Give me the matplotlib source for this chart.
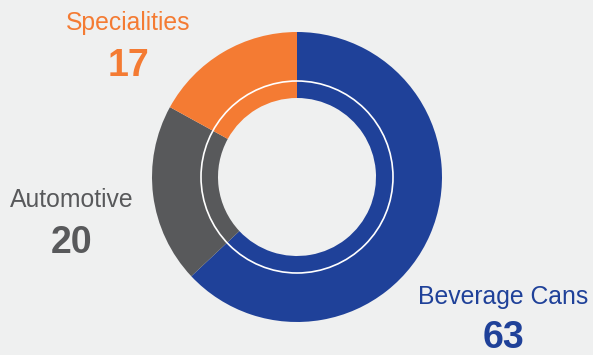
import matplotlib.pyplot as plt
from matplotlib.patches import Circle

plt.rcParams['font.family'] = ['Liberation Sans', 'DejaVu Sans']

segments = ['Beverage Cans', 'Automotive', 'Specialities']
shares = [63, 20, 17]
colors = ['#1F4199', '#58595B', '#F47B33']

W, H = 593, 355
fig = plt.figure(figsize=(W / 100, H / 100), dpi=100)
fig.patch.set_facecolor('#EFF0F0')
ax = fig.add_axes([0, 0, 1, 1])
ax.set_facecolor('#EFF0F0')

cx, cy = 297, H - 177
R = 145
ax.pie(shares, colors=colors, startangle=90, counterclock=False,
       radius=R, center=(cx, cy),
       wedgeprops=dict(width=R - 79, linewidth=0))
ax.add_patch(Circle((cx, cy), 96, fill=False, edgecolor='white', linewidth=1.2))

# labels: (name x, name y, value y) in pixel coordinates from top
label_pos = [(503, 297, 338), (72, 200, 243), (128, 23, 66)]
for name, val, col, (lx, ly, vy) in zip(segments, shares, colors, label_pos):
    ax.text(lx, H - ly, name, color=col, fontsize=17.8, ha='center', va='center')
    ax.text(lx, H - vy, str(val), color=col, fontsize=27, fontweight='bold',
            ha='center', va='center')

ax.set_xlim(0, W)
ax.set_ylim(0, H)
ax.set_aspect('equal')
ax.axis('off')

plt.savefig('out.png', dpi=100, facecolor=fig.get_facecolor())
